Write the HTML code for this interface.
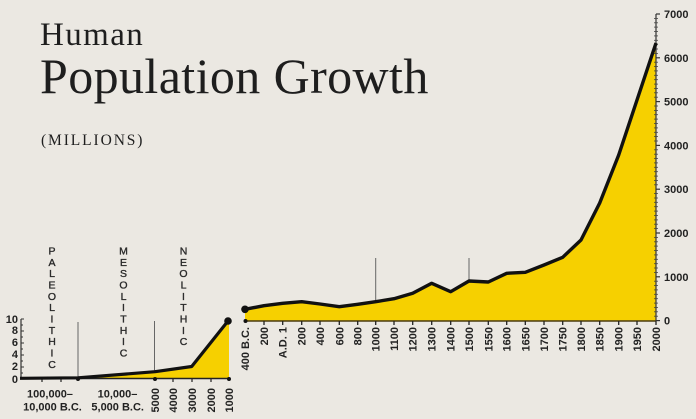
<!DOCTYPE html>
<html><head><meta charset="utf-8"><style>
html,body{margin:0;padding:0;}
body{width:696px;height:419px;overflow:hidden;background:#ebe8e2;}
svg{display:block;}
.t{font-family:"Liberation Serif",serif;fill:#1e1e1e;}
.b{font-family:"Liberation Sans",sans-serif;font-weight:bold;font-size:11px;fill:#222;}
.v{font-family:"Liberation Sans",sans-serif;font-size:10.5px;fill:#2a2a2a;stroke:#2a2a2a;stroke-width:0.35;}
</style></head><body>
<svg width="696" height="419" viewBox="0 0 696 419" xmlns="http://www.w3.org/2000/svg">
<rect width="696" height="419" fill="#ebe8e2"/>
<text class="t" x="40" y="45" font-size="33" letter-spacing="1.4">Human</text>
<text class="t" x="40" y="93" font-size="50" letter-spacing="0.4">Population Growth</text>
<text class="t" x="41" y="145" font-size="15.5" letter-spacing="1.9">(MILLIONS)</text>

<!-- LEFT CHART -->
<polygon points="78,378.5 78,378 155,371.7 191.7,366.5 228,321 229,321 229,378.5" fill="#f6d000"/>
<line x1="21" y1="319" x2="21" y2="379" stroke="#333" stroke-width="1.2"/>
<g stroke="#333" stroke-width="1">
<line x1="21" y1="319" x2="24" y2="319"/><line x1="21" y1="331" x2="24" y2="331"/><line x1="21" y1="343" x2="24" y2="343"/><line x1="21" y1="355" x2="24" y2="355"/><line x1="21" y1="367" x2="24" y2="367"/>
<line x1="21" y1="325" x2="23" y2="325"/><line x1="21" y1="337" x2="23" y2="337"/><line x1="21" y1="349" x2="23" y2="349"/><line x1="21" y1="361" x2="23" y2="361"/><line x1="21" y1="373" x2="23" y2="373"/>
</g>
<g class="b" text-anchor="end">
<text x="18" y="323">10</text><text x="18" y="334">8</text><text x="18" y="346">6</text><text x="18" y="358">4</text><text x="18" y="370">2</text><text x="18" y="383">0</text>
</g>
<line x1="20" y1="378.5" x2="229" y2="378.5" stroke="#222" stroke-width="1.5"/>
<g stroke="#222" stroke-width="1.2">
<line x1="42" y1="377" x2="42" y2="382"/><line x1="61" y1="377" x2="61" y2="382"/>
<line x1="173" y1="378" x2="173" y2="382"/><line x1="192" y1="378" x2="192" y2="382"/><line x1="211" y1="378" x2="211" y2="382"/>
</g>
<circle cx="78" cy="379" r="2" fill="#111"/><circle cx="155" cy="379" r="2" fill="#111"/><circle cx="229" cy="379" r="2" fill="#111"/>
<line x1="78" y1="322" x2="78" y2="378" stroke="#666" stroke-width="1"/>
<line x1="154.5" y1="321" x2="154.5" y2="371" stroke="#666" stroke-width="1"/>
<polyline points="20,378.3 78,377.8 155,371.7 191.7,366.5 228,321" fill="none" stroke="#111" stroke-width="3.2" stroke-linejoin="round"/>
<circle cx="228" cy="321" r="3.8" fill="#111"/>
<g class="b" text-anchor="middle">
<text x="50" y="397.5">100,000–</text><text x="52.5" y="410.5">10,000 B.C.</text>
<text x="117.5" y="397.5">10,000–</text><text x="117.7" y="410.5">5,000 B.C.</text>
</g>
<g class="b" text-anchor="end">
<text transform="translate(159,388) rotate(-90)">5000</text>
<text transform="translate(177,388) rotate(-90)">4000</text>
<text transform="translate(196,388) rotate(-90)">3000</text>
<text transform="translate(215,388) rotate(-90)">2000</text>
<text transform="translate(233,388) rotate(-90)">1000</text>
</g>
<g class="v" text-anchor="middle">
<text x="52" y="254.5">P</text><text x="52" y="265.8">A</text><text x="52" y="277.1">L</text><text x="52" y="288.5">E</text><text x="52" y="299.8">O</text><text x="52" y="311.1">L</text><text x="52" y="322.5">I</text><text x="52" y="333.8">T</text><text x="52" y="345.1">H</text><text x="52" y="356.5">I</text><text x="52" y="367.8">C</text>
<text x="123.5" y="254.5">M</text><text x="123.5" y="265.8">E</text><text x="123.5" y="277.1">S</text><text x="123.5" y="288.5">O</text><text x="123.5" y="299.8">L</text><text x="123.5" y="311.1">I</text><text x="123.5" y="322.5">T</text><text x="123.5" y="333.8">H</text><text x="123.5" y="345.1">I</text><text x="123.5" y="356.5">C</text>
<text x="183.5" y="254.5">N</text><text x="183.5" y="265.8">E</text><text x="183.5" y="277.1">O</text><text x="183.5" y="288.5">L</text><text x="183.5" y="299.8">I</text><text x="183.5" y="311.1">T</text><text x="183.5" y="322.5">H</text><text x="183.5" y="333.8">I</text><text x="183.5" y="345.1">C</text>
</g>

<!-- RIGHT CHART -->
<polygon points="245,321 245,309.3 264,305.7 282.7,303.3 301.7,301.7 320,304 339.3,306.7 357.7,304.3 375.7,301.7 394,298.7 412.7,293.3 431.7,283.3 450.7,291.7 469,281 488.3,282 506.7,273.3 525.3,272.3 544,265 562.7,257.3 581,240 599.7,203 618.7,155 637,100 656,44 656,321" fill="#f6d000"/>
<line x1="375.7" y1="258" x2="375.7" y2="301" stroke="#666" stroke-width="1"/>
<line x1="469" y1="258" x2="469" y2="281" stroke="#666" stroke-width="1"/>
<line x1="245" y1="321" x2="656" y2="321" stroke="#4a3b10" stroke-width="1.5"/>
<g stroke="#222" stroke-width="1.3">
<line x1="264" y1="321" x2="264" y2="325"/><line x1="282.7" y1="321" x2="282.7" y2="325"/><line x1="301.7" y1="321" x2="301.7" y2="325"/><line x1="320" y1="321" x2="320" y2="325"/><line x1="339.3" y1="321" x2="339.3" y2="325"/><line x1="357.7" y1="321" x2="357.7" y2="325"/><line x1="375.7" y1="321" x2="375.7" y2="325"/><line x1="394" y1="321" x2="394" y2="325"/><line x1="412.7" y1="321" x2="412.7" y2="325"/><line x1="431.7" y1="321" x2="431.7" y2="325"/><line x1="450.7" y1="321" x2="450.7" y2="325"/><line x1="469" y1="321" x2="469" y2="325"/><line x1="488.3" y1="321" x2="488.3" y2="325"/><line x1="506.7" y1="321" x2="506.7" y2="325"/><line x1="525.3" y1="321" x2="525.3" y2="325"/><line x1="544" y1="321" x2="544" y2="325"/><line x1="562.7" y1="321" x2="562.7" y2="325"/><line x1="581" y1="321" x2="581" y2="325"/><line x1="599.7" y1="321" x2="599.7" y2="325"/><line x1="618.7" y1="321" x2="618.7" y2="325"/><line x1="637" y1="321" x2="637" y2="325"/><line x1="656" y1="321" x2="656" y2="325"/>
</g>
<circle cx="245.5" cy="321" r="2" fill="#111"/>
<!-- right y axis -->
<line x1="656" y1="14" x2="656" y2="321" stroke="#333" stroke-width="1.2"/>
<g stroke="#444" stroke-width="0.8">
<line x1="654" y1="18.4" x2="658" y2="18.4"/><line x1="654" y1="22.8" x2="658" y2="22.8"/><line x1="654" y1="27.1" x2="658" y2="27.1"/><line x1="654" y1="31.5" x2="658" y2="31.5"/><line x1="654" y1="35.9" x2="658" y2="35.9"/><line x1="654" y1="40.3" x2="658" y2="40.3"/><line x1="654" y1="44.7" x2="658" y2="44.7"/><line x1="654" y1="49.0" x2="658" y2="49.0"/><line x1="654" y1="53.4" x2="658" y2="53.4"/>
<line x1="654" y1="62.2" x2="658" y2="62.2"/><line x1="654" y1="66.6" x2="658" y2="66.6"/><line x1="654" y1="70.9" x2="658" y2="70.9"/><line x1="654" y1="75.3" x2="658" y2="75.3"/><line x1="654" y1="79.7" x2="658" y2="79.7"/><line x1="654" y1="84.1" x2="658" y2="84.1"/><line x1="654" y1="88.5" x2="658" y2="88.5"/><line x1="654" y1="92.8" x2="658" y2="92.8"/><line x1="654" y1="97.2" x2="658" y2="97.2"/>
<line x1="654" y1="106.0" x2="658" y2="106.0"/><line x1="654" y1="110.4" x2="658" y2="110.4"/><line x1="654" y1="114.7" x2="658" y2="114.7"/><line x1="654" y1="119.1" x2="658" y2="119.1"/><line x1="654" y1="123.5" x2="658" y2="123.5"/><line x1="654" y1="127.9" x2="658" y2="127.9"/><line x1="654" y1="132.3" x2="658" y2="132.3"/><line x1="654" y1="136.6" x2="658" y2="136.6"/><line x1="654" y1="141.0" x2="658" y2="141.0"/>
<line x1="654" y1="149.8" x2="658" y2="149.8"/><line x1="654" y1="154.2" x2="658" y2="154.2"/><line x1="654" y1="158.5" x2="658" y2="158.5"/><line x1="654" y1="162.9" x2="658" y2="162.9"/><line x1="654" y1="167.3" x2="658" y2="167.3"/><line x1="654" y1="171.7" x2="658" y2="171.7"/><line x1="654" y1="176.1" x2="658" y2="176.1"/><line x1="654" y1="180.4" x2="658" y2="180.4"/><line x1="654" y1="184.8" x2="658" y2="184.8"/>
<line x1="654" y1="193.6" x2="658" y2="193.6"/><line x1="654" y1="198.0" x2="658" y2="198.0"/><line x1="654" y1="202.3" x2="658" y2="202.3"/><line x1="654" y1="206.7" x2="658" y2="206.7"/><line x1="654" y1="211.1" x2="658" y2="211.1"/><line x1="654" y1="215.5" x2="658" y2="215.5"/><line x1="654" y1="219.9" x2="658" y2="219.9"/><line x1="654" y1="224.2" x2="658" y2="224.2"/><line x1="654" y1="228.6" x2="658" y2="228.6"/>
<line x1="654" y1="237.4" x2="658" y2="237.4"/><line x1="654" y1="241.8" x2="658" y2="241.8"/><line x1="654" y1="246.1" x2="658" y2="246.1"/><line x1="654" y1="250.5" x2="658" y2="250.5"/><line x1="654" y1="254.9" x2="658" y2="254.9"/><line x1="654" y1="259.3" x2="658" y2="259.3"/><line x1="654" y1="263.7" x2="658" y2="263.7"/><line x1="654" y1="268.0" x2="658" y2="268.0"/><line x1="654" y1="272.4" x2="658" y2="272.4"/>
<line x1="654" y1="281.2" x2="658" y2="281.2"/><line x1="654" y1="285.6" x2="658" y2="285.6"/><line x1="654" y1="289.9" x2="658" y2="289.9"/><line x1="654" y1="294.3" x2="658" y2="294.3"/><line x1="654" y1="298.7" x2="658" y2="298.7"/><line x1="654" y1="303.1" x2="658" y2="303.1"/><line x1="654" y1="307.5" x2="658" y2="307.5"/><line x1="654" y1="311.8" x2="658" y2="311.8"/><line x1="654" y1="316.2" x2="658" y2="316.2"/>
</g>
<g stroke="#333" stroke-width="1.2">
<line x1="656" y1="14" x2="660" y2="14"/><line x1="656" y1="57.8" x2="660" y2="57.8"/><line x1="656" y1="101.6" x2="660" y2="101.6"/><line x1="656" y1="145.4" x2="660" y2="145.4"/><line x1="656" y1="189.2" x2="660" y2="189.2"/><line x1="656" y1="233" x2="660" y2="233"/><line x1="656" y1="276.8" x2="660" y2="276.8"/><line x1="656" y1="320.6" x2="660" y2="320.6"/>
</g>
<g class="b">
<text x="664" y="18">7000</text><text x="664" y="61.8">6000</text><text x="664" y="105.6">5000</text><text x="664" y="149.4">4000</text><text x="664" y="193.2">3000</text><text x="664" y="237">2000</text><text x="664" y="280.8">1000</text><text x="664" y="324.6">0</text>
</g>
<polyline points="245,309.3 264,305.7 282.7,303.3 301.7,301.7 320,304 339.3,306.7 357.7,304.3 375.7,301.7 394,298.7 412.7,293.3 431.7,283.3 450.7,291.7 469,281 488.3,282 506.7,273.3 525.3,272.3 544,265 562.7,257.3 581,240 599.7,203 618.7,155 637,100 656,43" fill="none" stroke="#111" stroke-width="3.4" stroke-linejoin="round"/>
<circle cx="245" cy="309.3" r="3.8" fill="#111"/>
<g class="b" text-anchor="end">
<text transform="translate(249,327) rotate(-90)">400 B.C.</text>
<text transform="translate(268,327) rotate(-90)">200</text>
<text transform="translate(286.7,327) rotate(-90)">A.D. 1</text>
<text transform="translate(305.7,327) rotate(-90)">200</text>
<text transform="translate(324,327) rotate(-90)">400</text>
<text transform="translate(343.3,327) rotate(-90)">600</text>
<text transform="translate(361.7,327) rotate(-90)">800</text>
<text transform="translate(379.7,327) rotate(-90)">1000</text>
<text transform="translate(398,327) rotate(-90)">1100</text>
<text transform="translate(416.7,327) rotate(-90)">1200</text>
<text transform="translate(435.7,327) rotate(-90)">1300</text>
<text transform="translate(454.7,327) rotate(-90)">1400</text>
<text transform="translate(473,327) rotate(-90)">1500</text>
<text transform="translate(492.3,327) rotate(-90)">1550</text>
<text transform="translate(510.7,327) rotate(-90)">1600</text>
<text transform="translate(529.3,327) rotate(-90)">1650</text>
<text transform="translate(548,327) rotate(-90)">1700</text>
<text transform="translate(566.7,327) rotate(-90)">1750</text>
<text transform="translate(585,327) rotate(-90)">1800</text>
<text transform="translate(603.7,327) rotate(-90)">1850</text>
<text transform="translate(622.7,327) rotate(-90)">1900</text>
<text transform="translate(641,327) rotate(-90)">1950</text>
<text transform="translate(660,327) rotate(-90)">2000</text>
</g>
</svg>
</body></html>
